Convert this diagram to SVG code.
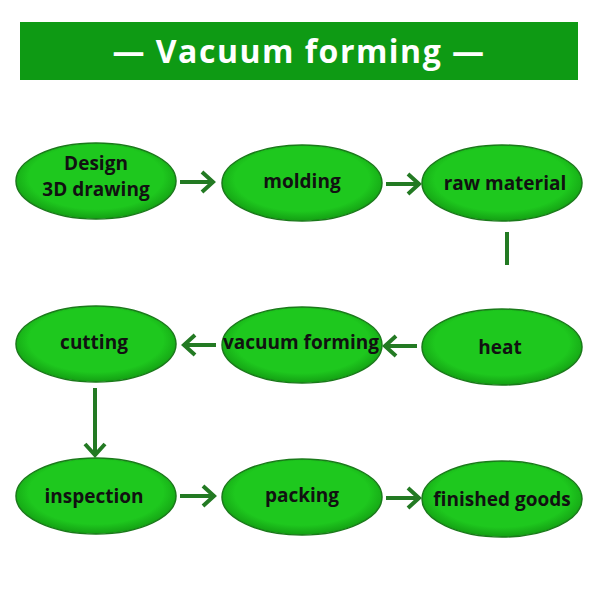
<svg xmlns="http://www.w3.org/2000/svg" width="600" height="600" viewBox="0 0 600 600">
<style>
.n ellipse{fill:url(#g);stroke:#1a7a1a;stroke-width:1.5}
.n text{font-family:"Open Sans","Liberation Sans",sans-serif;font-weight:bold;font-size:19px;fill:#111;text-anchor:middle}
.c path{stroke:#237a23;stroke-width:4;fill:none}
</style>
<defs>
<radialGradient id="g" cx="0.5" cy="0.45" r="0.6"><stop offset="0.7" stop-color="#1ec81e"/><stop offset="1" stop-color="#0f8f0f"/></radialGradient>
</defs>
<rect width="600" height="600" fill="#fff"/>
<g id="title"><rect x="20" y="22" width="558" height="58" fill="#0e9a14"/>
<text x="299" y="63" font-family="'Open Sans','Liberation Sans',sans-serif" font-weight="bold" font-size="32" letter-spacing="1.5" fill="#fff" text-anchor="middle">— Vacuum forming —</text></g>
<g id="n1" class="n"><ellipse cx="96" cy="181" rx="80" ry="38"/><text x="96" y="170">Design</text><text x="96" y="196">3D drawing</text></g>
<g id="n2" class="n"><ellipse cx="302" cy="183" rx="80" ry="38"/><text x="302" y="188">molding</text></g>
<g id="n3" class="n"><ellipse cx="502" cy="183" rx="80" ry="38"/><text x="505" y="190">raw material</text></g>
<g id="n4" class="n"><ellipse cx="502" cy="347" rx="80" ry="38"/><text x="500" y="354">heat</text></g>
<g id="n5" class="n"><ellipse cx="302" cy="345" rx="80" ry="38"/><text x="301" y="349">vacuum forming</text></g>
<g id="n6" class="n"><ellipse cx="96" cy="344" rx="80" ry="38"/><text x="94" y="349">cutting</text></g>
<g id="n7" class="n"><ellipse cx="96" cy="496" rx="80" ry="38"/><text x="94" y="503">inspection</text></g>
<g id="n8" class="n"><ellipse cx="302" cy="497" rx="80" ry="38"/><text x="302" y="502">packing</text></g>
<g id="n9" class="n"><ellipse cx="502" cy="499" rx="80" ry="38"/><text x="502" y="506">finished goods</text></g>
<g id="connectors" class="c">
<path d="M180 182H212M202 172L213 182L202 192"/>
<path d="M386 184H418M408 174L419 184L408 194"/>
<path d="M507 232V265"/>
<path d="M417 346H386M396 336L385 346L396 356"/>
<path d="M216 345H185M195 335L184 345L195 355"/>
<path d="M95 388V454M85 444L95 455L105 444"/>
<path d="M180 496H213M203 486L214 496L203 506"/>
<path d="M386 498H418M408 488L419 498L408 508"/>
</g>
</svg>
